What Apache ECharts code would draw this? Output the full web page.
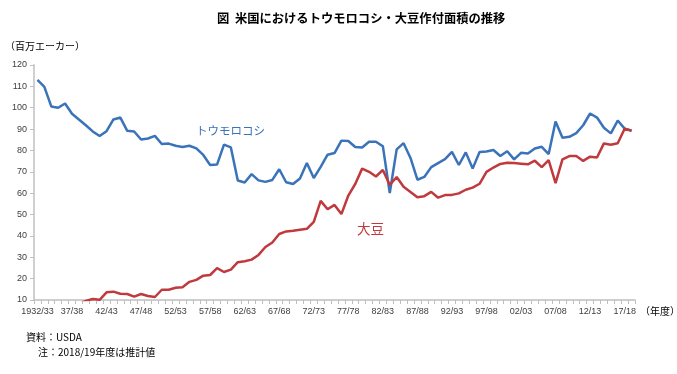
<!DOCTYPE html>
<html><head><meta charset="utf-8">
<script src="https://cdn.jsdelivr.net/npm/echarts@6/dist/echarts.min.js"></script>
<style>html,body{margin:0;padding:0;background:#fff}#c{width:677px;height:374px}</style>
</head><body><div id="c"></div>
<script>
var categories = ["1932/33","33/34","34/35","35/36","36/37","37/38","38/39","39/40","40/41","41/42",
"42/43","43/44","44/45","45/46","46/47","47/48","48/49","49/50","50/51","51/52",
"52/53","53/54","54/55","55/56","56/57","57/58","58/59","59/60","60/61","61/62",
"62/63","63/64","64/65","65/66","66/67","67/68","68/69","69/70","70/71","71/72",
"72/73","73/74","74/75","75/76","76/77","77/78","78/79","79/80","80/81","81/82",
"82/83","83/84","84/85","85/86","86/87","87/88","88/89","89/90","90/91","91/92",
"92/93","93/94","94/95","95/96","96/97","97/98","98/99","99/00","00/01","01/02",
"02/03","03/04","04/05","05/06","06/07","07/08","08/09","09/10","10/11","11/12",
"12/13","13/14","14/15","15/16","16/17","17/18","18/19"];
var corn = [113.0,109.8,100.6,100.0,102.0,97.2,94.5,91.8,88.9,86.8,
89.0,94.5,95.4,89.2,88.9,85.1,85.6,86.8,83.0,83.2,
82.2,81.6,82.2,81.0,77.9,73.2,73.4,82.7,81.4,65.9,
65.0,68.9,66.0,65.3,66.2,71.2,65.1,64.3,66.9,74.1,
67.1,72.3,78.0,78.8,84.6,84.4,81.6,81.4,84.1,84.1,
82.0,60.1,80.5,83.4,76.5,66.3,67.6,72.2,74.1,75.9,
79.3,73.2,79.1,71.5,79.3,79.5,80.2,77.4,79.6,75.8,
78.9,78.6,80.9,81.7,78.3,93.5,86.0,86.4,88.1,91.8,
97.3,95.4,90.6,88.0,94.0,90.2,89.2];
var soy = [6.0,5.4,7.0,7.3,6.6,6.3,8.0,9.6,10.5,10.1,
13.6,13.9,12.9,12.8,11.6,12.8,11.9,11.4,14.8,14.8,
15.7,16.0,18.5,19.4,21.4,21.7,24.9,23.1,24.2,27.7,
28.1,28.9,31.1,34.8,36.9,40.9,42.1,42.4,42.9,43.3,
46.6,56.4,52.5,54.5,50.2,58.9,64.3,71.5,70.0,67.8,
70.9,63.8,67.6,63.0,60.6,58.1,58.6,60.6,57.9,59.1,
59.2,59.9,61.6,62.6,64.4,70.0,72.0,73.7,74.2,74.1,
73.8,73.5,75.2,72.2,75.5,64.7,75.8,77.4,77.4,75.1,
77.1,76.7,83.3,82.7,83.4,90.2,89.2];
var yTicks = {min:10, max:120, interval:10};
var blue = '#3A73B9', red = '#C0393D';
var numFont = 'Liberation Sans, Noto Sans, sans-serif';
var jpFont = 'Noto Sans CJK JP, sans-serif';
var chart = echarts.init(document.getElementById('c'), null, {renderer:'canvas'});
chart.setOption({
  animation:false,
  backgroundColor:'#fff',
  grid:{left:34, right:42, top:65, bottom:74, containLabel:false},
  xAxis:{type:'category', data:categories, boundaryGap:true,
    axisLine:{lineStyle:{color:'#BFBFBF', width:1.5}},
    axisTick:{show:true, interval:0, length:4, lineStyle:{color:'#BFBFBF'}},
    axisLabel:{interval:4, color:'#404040', fontSize:9, fontFamily:numFont, margin:7}
  },
  yAxis:{type:'value', min:yTicks.min, max:yTicks.max, interval:yTicks.interval,
    splitLine:{show:false},
    axisLine:{show:true, lineStyle:{color:'#D0D0D0', width:2}},
    axisTick:{show:true, length:4, lineStyle:{color:'#BFBFBF'}},
    axisLabel:{color:'#404040', fontSize:9, fontFamily:numFont, margin:7}
  },
  series:[
    {type:'line', data:corn, symbol:'none', clip:true, lineStyle:{color:blue, width:2.5}, itemStyle:{color:blue}},
    {type:'line', data:soy, symbol:'none', clip:true, lineStyle:{color:red, width:2.5}, itemStyle:{color:red}}
  ],
  graphic:[
    {type:'text', left:217, top:12, style:{text:'図  米国におけるトウモロコシ・大豆作付面積の推移', fill:'#000', font:'bold 12.3px '+jpFont}},
    {type:'text', left:5, top:41, style:{text:'（百万エーカー）', fill:'#000', font:'10px '+jpFont}},
    {type:'text', left:196, top:125, style:{text:'トウモロコシ', fill:blue, font:'11.5px '+jpFont}},
    {type:'text', left:357, top:222, style:{text:'大豆', fill:red, font:'13.5px '+jpFont}},
    {type:'text', left:640, top:306, style:{text:'（年度）', fill:'#000', font:'10px '+jpFont}},
    {type:'text', left:26, top:332, style:{text:'資料：USDA', fill:'#000', font:'10px '+jpFont}},
    {type:'text', left:38, top:347, style:{text:'注：2018/19年度は推計値', fill:'#000', font:'10px '+jpFont}}
  ]
});
</script></body></html>
